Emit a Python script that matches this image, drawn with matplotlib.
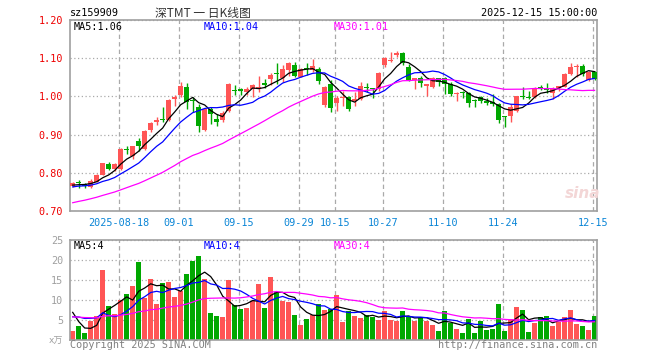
"""Daily K-line chart for sz159909 (深TMT) with MA lines and volume panel."""
import numpy as np
import pandas as pd
import matplotlib
matplotlib.use("Agg")
import matplotlib.pyplot as plt

# ---- data ----
open_ = [0.766, 0.774, 0.770, 0.763, 0.776, 0.794, 0.823, 0.810, 0.810, 0.861,
         0.845, 0.884, 0.862, 0.913, 0.932, 0.941, 0.937, 0.994, 1.004, 1.025,
         0.988, 0.972, 0.911, 0.968, 0.941, 0.937, 0.963, 1.017, 1.020, 1.011,
         1.020, 1.020, 1.035, 1.045, 1.060, 1.048, 1.069, 1.082, 1.052, 1.072,
         1.069, 1.072, 0.978, 1.032, 0.982, 0.995, 0.999, 0.987, 0.993, 1.024,
         1.023, 1.019, 1.082, 1.092, 1.109, 1.113, 1.078, 1.043, 1.048, 1.028,
         1.024, 1.048, 1.048, 1.032, 1.006, 1.010, 1.008, 0.988, 0.999, 0.989,
         0.985, 0.980, 0.947, 0.949, 0.962, 1.000, 0.996, 0.999, 1.024, 1.017,
         1.008, 1.022, 1.025, 1.059, 1.078, 1.079, 1.043, 1.063]
high = [0.776, 0.782, 0.774, 0.783, 0.796, 0.826, 0.829, 0.826, 0.864, 0.869,
        0.870, 0.890, 0.912, 0.934, 0.946, 0.972, 0.992, 1.003, 1.038, 1.035,
        0.998, 0.981, 0.970, 0.972, 0.954, 0.961, 1.034, 1.029, 1.022, 1.025,
        1.032, 1.054, 1.046, 1.060, 1.088, 1.083, 1.089, 1.089, 1.075, 1.087,
        1.098, 1.076, 1.028, 1.043, 1.002, 1.015, 1.002, 1.011, 1.037, 1.034,
        1.023, 1.063, 1.104, 1.116, 1.120, 1.116, 1.085, 1.048, 1.054, 1.032,
        1.052, 1.048, 1.050, 1.037, 1.011, 1.015, 1.011, 0.993, 1.002, 0.996,
        1.006, 0.982, 0.949, 0.980, 1.002, 1.024, 1.015, 1.025, 1.031, 1.034,
        1.024, 1.028, 1.061, 1.087, 1.084, 1.084, 1.067, 1.066]
low = [0.764, 0.761, 0.761, 0.761, 0.775, 0.793, 0.807, 0.806, 0.807, 0.849,
       0.836, 0.858, 0.860, 0.908, 0.924, 0.932, 0.935, 0.974, 0.998, 0.968,
       0.959, 0.906, 0.909, 0.928, 0.922, 0.934, 0.958, 1.003, 1.003, 1.003,
       0.998, 1.011, 1.022, 1.029, 1.033, 1.038, 1.054, 1.050, 1.050, 1.057,
       1.063, 1.032, 0.971, 0.958, 0.962, 0.975, 0.962, 0.975, 0.990, 1.011,
       0.997, 1.015, 1.078, 1.089, 1.104, 1.081, 1.041, 1.019, 1.024, 1.000,
       1.022, 1.028, 1.006, 1.002, 0.989, 0.997, 0.973, 0.973, 0.984, 0.977,
       0.975, 0.930, 0.920, 0.932, 0.958, 0.993, 0.993, 0.995, 1.017, 1.008,
       0.993, 1.015, 1.024, 1.057, 1.051, 1.053, 1.041, 1.043]
close = [0.773, 0.773, 0.765, 0.778, 0.794, 0.825, 0.810, 0.823, 0.861, 0.860,
         0.869, 0.869, 0.910, 0.931, 0.937, 0.939, 0.991, 0.998, 1.026, 0.985,
         0.987, 0.922, 0.968, 0.954, 0.934, 0.957, 1.033, 1.015, 1.013, 1.020,
         1.029, 1.025, 1.029, 1.055, 1.059, 1.071, 1.088, 1.054, 1.072, 1.071,
         1.079, 1.041, 1.024, 0.969, 0.997, 0.999, 0.967, 0.993, 1.026, 1.023,
         1.020, 1.061, 1.100, 1.096, 1.114, 1.087, 1.043, 1.048, 1.034, 1.032,
         1.048, 1.039, 1.032, 1.006, 1.009, 1.009, 0.982, 0.987, 0.989, 0.984,
         0.981, 0.938, 0.945, 0.971, 1.002, 0.999, 0.995, 1.022, 1.023, 1.016,
         1.019, 1.028, 1.059, 1.076, 1.080, 1.059, 1.063, 1.046]
# volume in 万
volume = [2.25, 3.6, 1.75, 4.75, 6.0, 17.5, 8.5, 6.5, 10.0, 11.4,
          13.5, 19.5, 10.6, 15.25, 9.0, 14.25, 14.6, 10.8, 12.3, 16.5,
          19.75, 21.0, 15.25, 6.8, 6.0, 5.75, 15.0, 8.7, 7.8, 8.1,
          9.75, 14.0, 8.1, 15.75, 11.9, 9.8, 9.5, 6.25, 3.8, 5.3,
          6.2, 9.0, 7.6, 7.7, 11.25, 4.5, 7.25, 6.0, 5.6, 6.25,
          5.8, 5.0, 7.25, 5.0, 4.75, 7.25, 5.8, 4.75, 5.4, 4.75,
          3.75, 2.25, 7.25, 4.3, 2.75, 1.75, 5.25, 1.75, 4.75, 2.5,
          2.75, 9.0, 2.25, 5.25, 8.25, 7.6, 2.0, 4.25, 5.75, 6.0,
          3.5, 4.5, 5.75, 7.5, 4.0, 3.5, 2.5, 6.0]

# closes / volumes of the 29 sessions before the window (only feed the MA lines)
pre_close = [0.668, 0.672, 0.665, 0.674, 0.681, 0.676, 0.688, 0.693, 0.690, 0.699,
             0.705, 0.702, 0.711, 0.718, 0.714, 0.722, 0.731, 0.728, 0.737, 0.745,
             0.752, 0.758, 0.761, 0.757, 0.764, 0.768, 0.762, 0.766, 0.770]
pre_volume = [6.2, 4.8, 5.5, 7.1, 5.9, 4.6, 6.8, 5.2, 6.4, 5.0,
              7.3, 5.6, 4.9, 6.1, 5.4, 6.6, 5.8, 5.1, 6.3, 5.3,
              4.2, 5.3, 4.4, 5.1, 4.5, 15.1, 9.8, 5.2, 2.2]

holidays = ["2025-10-01", "2025-10-02", "2025-10-03", "2025-10-06",
            "2025-10-07", "2025-10-08"]
tick_dates = ["2025-08-18", "2025-09-01", "2025-09-15", "2025-09-29", "2025-10-15",
              "2025-10-27", "2025-11-10", "2025-11-24", "2025-12-15"]

price_ticks = [0.70, 0.80, 0.90, 1.00, 1.10, 1.20]
vol_ticks = [0, 5, 10, 15, 20, 25]

ma_price_labels = ["MA5:1.06", "MA10:1.04", "MA30:1.01"]
ma_vol_labels = ["MA5:4", "MA10:4", "MA30:4"]

RED = "#ff5555"
GREEN = "#00a800"
MA_COLORS = ["black", "#0000ff", "#ff00ff"]
GRID = "#aaaaaa"
MONO = ["DejaVu Sans Mono", "Noto Sans CJK SC"]

W, H = 660, 360


def fx(px):
    return px / W


def fy(py):
    return 1 - py / H


def main() -> None:
    days = pd.bdate_range("2025-08-06", "2025-12-15")
    days = days[~days.isin(pd.to_datetime(holidays))]
    dates = [d.strftime("%Y-%m-%d") for d in days]

    o = np.array(open_)
    c = np.array(close)
    x = np.arange(len(c))
    up = c >= o

    cs = pd.Series(pre_close + close)
    vs = pd.Series(pre_volume + volume)
    n0 = len(pre_close)
    ma_p = [cs.rolling(w).mean().to_numpy()[n0:] for w in (5, 10, 30)]
    ma_v = [vs.rolling(w).mean().to_numpy()[n0:] for w in (5, 10, 30)]

    fig = plt.figure(figsize=(W / 100, H / 100), dpi=100)
    ax = fig.add_axes([fx(70), fy(211), fx(527), 191 / H])
    axv = fig.add_axes([fx(70), fy(340), fx(527), 100 / H])

    grid_x = [dates.index(d) - 0.3 for d in tick_dates]
    tick_lbl = [tick_dates[0]] + [d[5:] for d in tick_dates[1:]]

    for a in (ax, axv):
        a.set_xlim(-0.45, 87.4)
        a.set_xticks(grid_x)
        a.grid(axis="x", color=GRID, lw=0.9, ls=(0, (3.5, 2.5)))
        a.grid(axis="y", color=GRID, lw=0.9, ls=(0, (1, 2)))
        a.set_axisbelow(True)
        a.tick_params(length=0, pad=5)
        for s in a.spines.values():
            s.set_color("#a0a0a0")
            s.set_linewidth(1.2)

    # ---- price panel ----
    colors = np.where(up, RED, GREEN)
    ax.vlines(x, low, high, colors=colors, lw=1.0, zorder=2)
    body_h = np.maximum(np.abs(c - o), 0.0026)
    ax.bar(x, body_h, bottom=np.minimum(o, c), width=0.82, color=colors,
           lw=0, zorder=3)
    for m, col in zip(ma_p, MA_COLORS):
        ax.plot(x, m, color=col, lw=0.9, zorder=4)
    ax.set_ylim(0.70, 1.20)
    ax.set_yticks(price_ticks)
    ax.set_yticklabels([f"{t:.2f}" for t in price_ticks], color="#ee0000",
                       family=MONO, fontsize=7.3)
    ax.set_xticklabels(tick_lbl, color="#0a85d6", family=MONO, fontsize=7.3)

    # ---- volume panel ----
    axv.bar(x, volume, width=0.82, color=colors, lw=0, zorder=2)
    for m, col in zip(ma_v, MA_COLORS):
        axv.plot(x, m, color=col, lw=0.9, zorder=4)
    axv.set_ylim(0, 25)
    axv.set_yticks(vol_ticks)
    axv.set_yticklabels([""] + [str(t) for t in vol_ticks[1:]], color="#a0a0a0",
                        family=MONO, fontsize=7.3)
    axv.set_xticklabels([])

    # ---- texts ----
    for lbl, col, px in zip(ma_price_labels, MA_COLORS, (74, 204, 334)):
        fig.text(fx(px), fy(26.5), lbl, color=col, family=MONO, fontsize=7.3,
                 va="center")
    for lbl, col, px in zip(ma_vol_labels, MA_COLORS, (74, 204, 334)):
        fig.text(fx(px), fy(246), lbl, color=col, family=MONO, fontsize=7.3,
                 va="center")

    fig.text(fx(70), fy(13), "sz159909", family=MONO, fontsize=7.3, va="center")
    fig.text(fx(203), fy(13), "深TMT 一 日K线图", family=["Noto Sans CJK SC"],
             fontsize=8.5, color="#333333", ha="center", va="center")
    fig.text(fx(597), fy(13), "2025-12-15 15:00:00", family=MONO, fontsize=7.3,
             ha="right", va="center")
    fig.text(fx(63), fy(341), "x万", family=["DejaVu Sans", "Noto Sans CJK SC"],
             fontsize=6.5, color="#a0a0a0", ha="right", va="center")
    fig.text(fx(70), fy(345.5), "Copyright 2025 SINA.COM", family=MONO,
             fontsize=7.3, color="#808080", va="center")
    fig.text(fx(597), fy(345.5), "http://finance.sina.com.cn", family=MONO,
             fontsize=7.3, color="#808080", ha="right", va="center")
    fig.text(fx(583), fy(194), "sina", fontsize=11, style="italic",
             weight="bold", color="#f3d6d6", ha="center", va="center")

    fig.savefig("out.png", dpi=100)


if __name__ == "__main__":
    main()
